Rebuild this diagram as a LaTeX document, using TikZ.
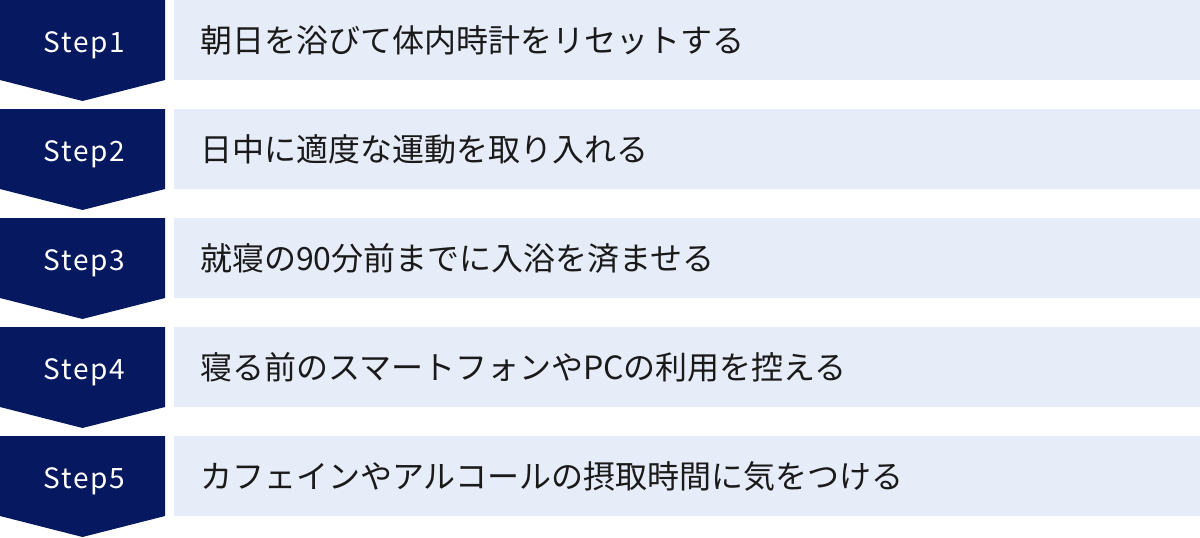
\documentclass[tikz,border=0pt]{standalone}
\usepackage{fontspec}
\setmainfont{Noto Sans CJK JP}
\newfontfamily\stepfont[LetterSpace=6]{Noto Sans CJK JP}
\definecolor{navy}{HTML}{06185F}
\definecolor{lightbox}{HTML}{E6ECF8}
\definecolor{ink}{HTML}{1A1A1A}
\tikzset{
  chev/.style={fill=navy, draw=none},
  steplabel/.style={text=white, font=\stepfont\fontsize{28}{34}\selectfont, inner sep=0pt, anchor=base},
  itembox/.style={fill=lightbox, draw=none, minimum width=1026pt, minimum height=80pt, inner sep=0pt, anchor=north west},
  itemtext/.style={text=ink, font=\fontsize{32}{38}\selectfont, inner sep=0pt, anchor=west}
}
\begin{document}
\begin{tikzpicture}[x=1pt,y=-1pt]
\useasboundingbox (0,0) rectangle (1200,538);
\foreach \i/\t in {1/{朝日を浴びて体内時計をリセットする},
                   2/{日中に適度な運動を取り入れる},
                   3/{就寝の90分前までに入浴を済ませる},
                   4/{寝る前のスマートフォンやPCの利用を控える},
                   5/{カフェインやアルコールの摂取時間に気をつける}}{
  \pgfmathsetmacro{\top}{(\i-1)*109}
  \fill[chev] (0,\top) -- (165,\top) -- (165,\top+80) -- (82.5,\top+101) -- (0,\top+80) -- cycle;
  \node[steplabel] (s\i) at (84.5,\top+52) {Step\i};
  \node[itembox] (b\i) at (174,\top) {};
  \node[itemtext] (t\i) at (200,\top+40) {\t};
}
\end{tikzpicture}
\end{document}
